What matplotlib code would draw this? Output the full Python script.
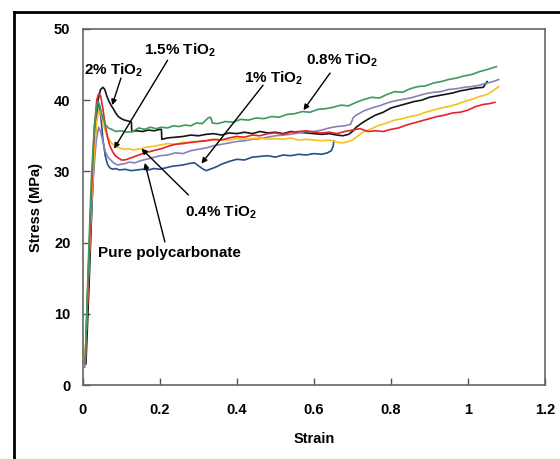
import matplotlib
matplotlib.use("Agg")
import matplotlib.pyplot as plt
from matplotlib.lines import Line2D

plt.rcParams['font.family'] = ['Liberation Sans', 'DejaVu Sans']
plt.rcParams['font.weight'] = 'bold'
plt.rcParams['mathtext.fontset'] = 'custom'
plt.rcParams['mathtext.rm'] = 'Liberation Sans:bold'
plt.rcParams['mathtext.default'] = 'rm'

# stress-strain curves, strain (-) vs stress (MPa)
strain_2 = [0.008, 0.016, 0.024, 0.032, 0.040, 0.046, 0.052, 0.057, 0.062, 0.068, 0.074, 0.079,
            0.085, 0.092, 0.10, 0.108, 0.116, 0.122, 0.126, 0.127, 0.14, 0.155, 0.17, 0.185, 0.2,
            0.204, 0.205, 0.22, 0.24, 0.26, 0.28, 0.30, 0.32, 0.34, 0.36, 0.38, 0.40, 0.42, 0.44,
            0.46, 0.48, 0.50, 0.52, 0.54, 0.56, 0.58, 0.60, 0.62, 0.64, 0.66, 0.675, 0.69, 0.70,
            0.71, 0.725, 0.74, 0.76, 0.78, 0.80, 0.82, 0.84, 0.86, 0.88, 0.90, 0.92, 0.94, 0.96,
            0.98, 1.00, 1.02, 1.04, 1.05]
stress_2 = [3, 14, 26, 35, 40.2, 41.5, 41.8, 41.5, 40.6, 39.8, 39.2, 38.8,
            38.2, 37.7, 37.4, 37.2, 37.1, 37.0, 36.9, 35.6, 35.7, 35.6, 35.8, 35.7, 35.9,
            35.9, 34.5, 34.7, 34.8, 34.9, 35.1, 35.0, 35.2, 35.3, 35.1, 35.4, 35.3, 35.5, 35.3,
            35.6, 35.4, 35.5, 35.3, 35.6, 35.5, 35.4, 35.3, 35.2, 35.3, 35.1, 35.0, 35.2, 35.6,
            36.2, 36.8, 37.3, 37.9, 38.3, 38.9, 39.2, 39.5, 39.8, 40.0, 40.4, 40.6, 40.8, 41.0,
            41.3, 41.5, 41.7, 41.8, 42.6]

strain_1 = [0.006, 0.013, 0.02, 0.027, 0.033, 0.038, 0.042, 0.047, 0.052, 0.058, 0.064, 0.07,
            0.077, 0.085, 0.095, 0.11, 0.125, 0.14, 0.155, 0.17, 0.185, 0.20, 0.215, 0.23,
            0.245, 0.26, 0.275, 0.29, 0.30, 0.31, 0.32, 0.33, 0.345, 0.36, 0.38, 0.40, 0.42,
            0.44, 0.46, 0.48, 0.50, 0.52, 0.54, 0.56, 0.58, 0.60, 0.62, 0.635, 0.645, 0.65, 0.652]
stress_1 = [3, 14, 24, 32, 37, 39.3, 39.5, 37.5, 34.5, 32.2, 31.0, 30.5,
            30.3, 30.4, 30.2, 30.3, 30.1, 30.2, 30.3, 30.2, 30.4, 30.3, 30.5, 30.7,
            30.8, 30.9, 31.1, 31.2, 30.8, 30.4, 30.1, 30.3, 30.6, 31.0, 31.4, 31.7, 31.6,
            32.0, 32.1, 32.2, 32.0, 32.3, 32.2, 32.4, 32.3, 32.5, 32.4, 32.6, 32.9, 33.5, 34.3]

strain_pc = [0.005, 0.012, 0.02, 0.028, 0.035, 0.041, 0.046, 0.052, 0.058, 0.065, 0.072, 0.08,
             0.09, 0.10, 0.11, 0.12, 0.135, 0.15, 0.165, 0.18, 0.20, 0.22, 0.24, 0.26, 0.28,
             0.30, 0.32, 0.34, 0.36, 0.38, 0.40, 0.42, 0.44, 0.46, 0.48, 0.50, 0.52, 0.54, 0.56,
             0.58, 0.60, 0.62, 0.64, 0.66, 0.68, 0.695, 0.703, 0.71, 0.73, 0.75, 0.77, 0.79,
             0.81, 0.83, 0.85, 0.87, 0.89, 0.91, 0.93, 0.95, 0.97, 0.99, 1.01, 1.03, 1.05,
             1.065, 1.08]
stress_pc = [2.5, 12, 22, 30, 34.5, 36.2, 35.6, 34.2, 32.8, 32.0, 31.6, 31.2,
             30.9, 31.0, 31.1, 31.3, 31.2, 31.5, 31.7, 31.9, 32.2, 32.3, 32.6, 32.5, 32.9,
             33.1, 33.3, 33.6, 33.8, 34.0, 34.2, 34.3, 34.5, 34.6, 34.8, 35.0, 35.1, 35.2, 35.4,
             35.6, 35.6, 35.8, 36.1, 36.3, 36.4, 36.6, 37.6, 37.9, 38.5, 38.9, 39.2, 39.6,
             39.9, 40.1, 40.3, 40.6, 40.9, 41.1, 41.2, 41.5, 41.6, 41.8, 41.9, 42.1, 42.4,
             42.6, 42.9]

strain_04 = [0.006, 0.014, 0.022, 0.030, 0.036, 0.041, 0.046, 0.052, 0.058, 0.064, 0.070, 0.076,
             0.083, 0.090, 0.10, 0.11, 0.12, 0.13, 0.14, 0.152, 0.165, 0.18, 0.20, 0.22, 0.24,
             0.26, 0.28, 0.30, 0.32, 0.34, 0.36, 0.38, 0.40, 0.42, 0.44, 0.46, 0.48, 0.50, 0.52,
             0.54, 0.56, 0.58, 0.60, 0.62, 0.64, 0.66, 0.675, 0.69, 0.70, 0.715, 0.73, 0.75,
             0.77, 0.79, 0.81, 0.83, 0.85, 0.87, 0.89, 0.91, 0.93, 0.95, 0.97, 0.99, 1.01, 1.03,
             1.05, 1.065, 1.08]
stress_04 = [4, 15, 26, 33, 37, 38.5, 38.3, 37.0, 35.7, 34.9, 34.3, 33.9,
             33.6, 33.4, 33.2, 33.1, 33.2, 33.0, 33.1, 33.2, 33.4, 33.5, 33.7, 33.9, 33.8,
             34.1, 34.0, 34.2, 34.3, 34.4, 34.5, 34.4, 34.6, 34.5, 34.6, 34.7, 34.5, 34.6, 34.5,
             34.7, 34.4, 34.5, 34.4, 34.3, 34.4, 34.1, 34.0, 34.2, 34.4, 35.0, 35.6, 36.0,
             36.5, 36.8, 37.2, 37.4, 37.7, 37.9, 38.3, 38.6, 38.9, 39.1, 39.4, 39.8, 40.1, 40.5,
             40.8, 41.3, 41.9]

strain_15 = [0.006, 0.014, 0.022, 0.030, 0.036, 0.041, 0.046, 0.052, 0.058, 0.064, 0.070, 0.077,
             0.084, 0.092, 0.10, 0.108, 0.115, 0.125, 0.135, 0.145, 0.16, 0.175, 0.19, 0.205,
             0.22, 0.24, 0.26, 0.28, 0.30, 0.32, 0.34, 0.36, 0.38, 0.40, 0.42, 0.44, 0.46, 0.48,
             0.50, 0.52, 0.54, 0.56, 0.58, 0.60, 0.62, 0.64, 0.66, 0.68, 0.70, 0.72, 0.74, 0.76,
             0.78, 0.80, 0.82, 0.84, 0.86, 0.88, 0.90, 0.92, 0.94, 0.96, 0.98, 1.00, 1.02, 1.04,
             1.055, 1.07]
stress_15 = [3, 15, 27, 36, 40.0, 40.9, 40.6, 38.8, 36.5, 34.8, 33.6, 32.8,
             32.2, 31.9, 31.6, 31.6, 31.7, 31.9, 32.1, 32.3, 32.6, 32.8, 33.0, 33.2,
             33.5, 33.8, 33.9, 34.1, 34.2, 34.3, 34.5, 34.4, 34.7, 34.9, 34.8, 35.1, 35.0, 35.3,
             35.4, 35.2, 35.5, 35.6, 35.7, 35.5, 35.4, 35.5, 35.3, 35.6, 35.8, 36.0, 35.6, 35.7,
             35.6, 35.9, 36.1, 36.5, 36.8, 37.1, 37.4, 37.7, 37.9, 38.2, 38.3, 38.6, 39.1, 39.4,
             39.5, 39.7]

strain_08 = [0.006, 0.014, 0.022, 0.030, 0.036, 0.040, 0.044, 0.050, 0.058, 0.066, 0.075, 0.085,
             0.10, 0.115, 0.13, 0.145, 0.16, 0.175, 0.19, 0.204, 0.22, 0.235, 0.25, 0.265, 0.28,
             0.295, 0.31, 0.325, 0.332, 0.336, 0.35, 0.37, 0.39, 0.41, 0.43, 0.45, 0.47, 0.49,
             0.51, 0.53, 0.55, 0.57, 0.59, 0.61, 0.63, 0.65, 0.67, 0.69, 0.71, 0.73, 0.75, 0.77,
             0.79, 0.81, 0.83, 0.85, 0.87, 0.89, 0.91, 0.93, 0.95, 0.97, 0.99, 1.01, 1.03, 1.05,
             1.074]
stress_08 = [3, 17, 29, 36.5, 39.3, 39.8, 39.2, 37.8, 36.6, 36.1, 35.9, 35.6,
             35.7, 35.5, 35.6, 36.1, 35.9, 36.2, 36.0, 36.2, 36.1, 36.4, 36.3, 36.5, 36.4,
             36.8, 36.7, 37.5, 37.6, 36.8, 36.7, 37.0, 36.9, 37.3, 37.2, 37.5, 37.4, 37.7,
             37.6, 38.0, 38.1, 38.4, 38.3, 38.7, 38.8, 39.0, 39.3, 39.2, 39.7, 40.1, 40.4, 40.3,
             40.8, 41.2, 41.1, 41.6, 41.9, 42.0, 42.4, 42.6, 42.9, 43.1, 43.4, 43.6, 44.0, 44.3,
             44.7]

# label text, text position, arrow tail, arrow tip (data coords)
labels = ["2% TiO$_2$", "1.5% TiO$_2$", "0.8% TiO$_2$", "1% TiO$_2$",
          "0.4% TiO$_2$", "Pure polycarbonate"]
label_xy = [(0.002, 44.2), (0.158, 47.0), (0.58, 45.6), (0.418, 43.1),
            (0.265, 24.3), (0.04, 18.5)]
arrow_from = [(0.099, 43.1), (0.22, 45.6), (0.642, 43.8), (0.468, 42.1),
              (0.274, 26.7), (0.213, 20.1)]
arrow_to = [(0.076, 39.3), (0.081, 33.2), (0.573, 38.6), (0.308, 31.1),
            (0.152, 33.2), (0.161, 31.2)]

fig = plt.figure(figsize=(5.6, 4.59), dpi=100)
ax = fig.add_axes([0.148, 0.161, 0.825, 0.776])

lw = 1.2
ax.plot(strain_2, stress_2, color='#151515', lw=lw)
ax.plot(strain_1, stress_1, color='#24508c', lw=lw)
ax.plot(strain_pc, stress_pc, color='#8383b9', lw=lw)
ax.plot(strain_04, stress_04, color='#f6c21c', lw=lw)
ax.plot(strain_15, stress_15, color='#e5232b', lw=lw)
ax.plot(strain_08, stress_08, color='#3d9a5e', lw=lw)

for text, pos, a, b in zip(labels, label_xy, arrow_from, arrow_to):
    ax.text(pos[0], pos[1], text, fontsize=11, fontweight='bold', va='center', ha='left')
    ax.annotate('', xy=b, xytext=a,
                arrowprops=dict(arrowstyle='-|>', color='black', lw=1.0,
                                mutation_scale=8, shrinkA=0, shrinkB=0))

ax.set_xlim(0, 1.2)
ax.set_ylim(0, 50)
ax.set_xticks([0, 0.2, 0.4, 0.6, 0.8, 1.0, 1.2])
ax.set_xticklabels(['0', '0.2', '0.4', '0.6', '0.8', '1', '1.2'])
ax.set_yticks([0, 10, 20, 30, 40, 50])
ax.tick_params(direction='in', length=5, width=1, color='#555555', labelsize=10.5)
ax.tick_params(axis='x', pad=13)
ax.tick_params(axis='y', pad=9)
for s in ax.spines.values():
    s.set_color('#666666')
    s.set_linewidth(1.2)

ax.set_xlabel('Strain', fontsize=10.5, fontweight='bold', labelpad=11)
ax.set_ylabel('Stress (MPa)', fontsize=10.5, fontweight='bold', labelpad=8)

# outer border
fig.add_artist(Line2D([13.5 / 560, 13.5 / 560], [0, 1 - 12 / 459], transform=fig.transFigure,
                      color='black', lw=2))
fig.add_artist(Line2D([13.5 / 560, 1], [1 - 12 / 459, 1 - 12 / 459], transform=fig.transFigure,
                      color='black', lw=2))

fig.savefig('out.png', dpi=100)
